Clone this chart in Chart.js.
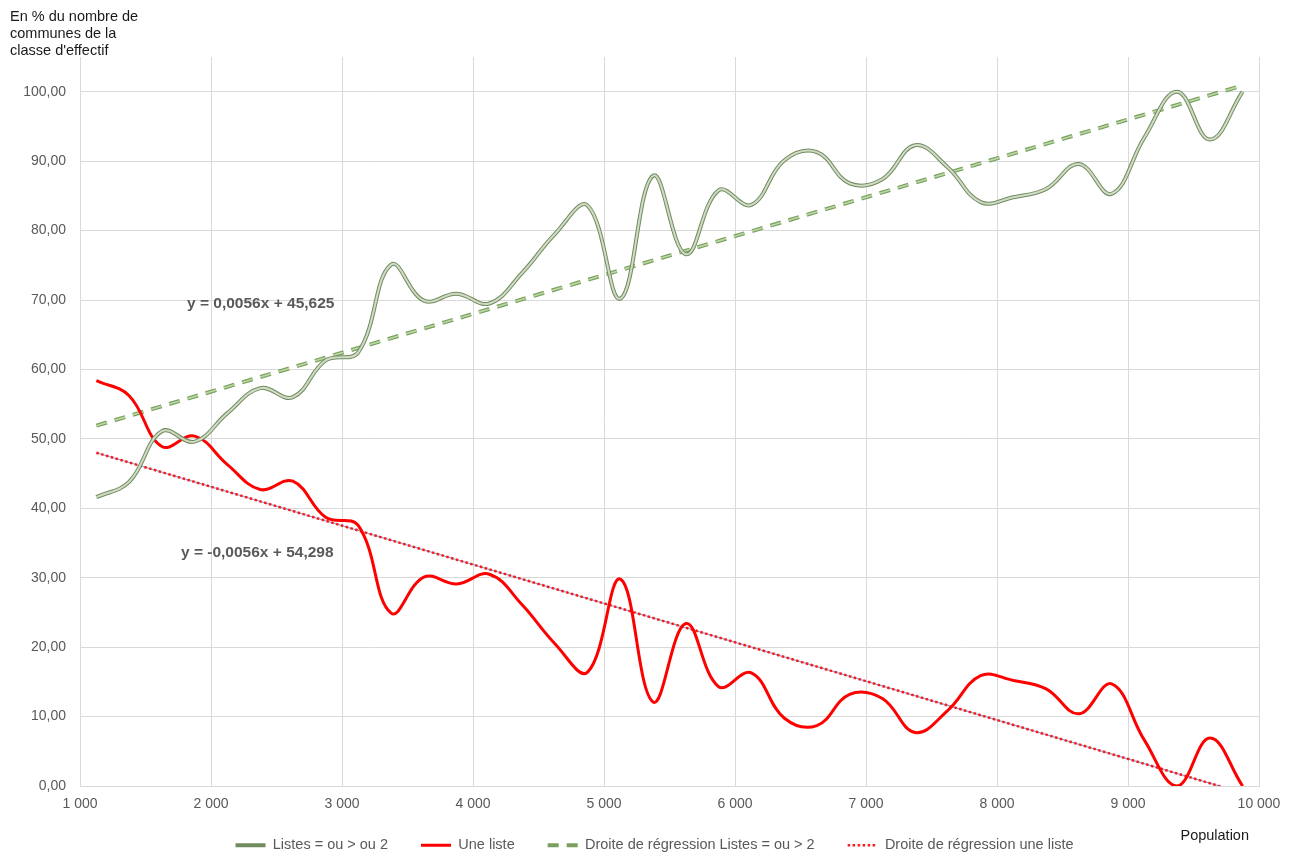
<!DOCTYPE html>
<html>
<head>
<meta charset="utf-8">
<script src="https://cdn.jsdelivr.net/npm/chart.js"></script>
<style>
  body { margin: 0; background: #fff; }
  #wrap { width: 1295px; height: 853px; }
</style>
</head>
<body>
<div id="wrap"><canvas id="graph1" width="1295" height="853"></canvas></div>
<script>
// données
let population = [1125, 1375, 1625, 1875, 2125, 2375, 2625, 2875, 3125, 3375, 3625, 3875,
  4125, 4375, 4625, 4875, 5125, 5375, 5625, 5875, 6125, 6375, 6625, 6875,
  7125, 7375, 7625, 7875, 8125, 8375, 8625, 8875, 9125, 9375, 9625, 9875];

let listesDeuxPlus = [41.6, 43.8, 51.1, 49.6, 53.7, 57.3, 56.0, 61.3, 62.5, 75.1, 69.9, 70.9,
  69.5, 73.9, 79.5, 83.6, 70.2, 87.9, 76.6, 85.8, 83.7, 90.1, 91.3, 86.8,
  87.4, 92.3, 89.1, 84.1, 84.8, 86.0, 89.6, 85.3, 93.4, 100.0, 93.1, 100.0];

let uneListe = [58.4, 56.2, 48.9, 50.4, 46.3, 42.7, 43.9, 38.7, 37.5, 24.9, 30.1, 29.1,
  30.5, 26.1, 20.5, 16.4, 29.8, 12.1, 23.4, 14.3, 16.3, 9.8, 8.7, 13.2,
  12.6, 7.7, 10.9, 15.9, 15.2, 14.0, 10.4, 14.7, 6.6, 0.0, 6.9, 0.0];

// droites de régression (extrémités)
let trendX = [1125, 9875];
let trendListes = [51.9, 100.9];
let trendUne = [48.0, -1.0];

let yTicks = [0, 10, 20, 30, 40, 50, 60, 70, 80, 90, 100];

let labels = ["Listes = ou > ou 2", "Une liste", "Droite de régression Listes = ou > 2", "Droite de régression une liste"];
let eqListes = "y = 0,0056x + 45,625";
let eqUne = "y = -0,0056x + 54,298";
let titreY = ["En % du nombre de", "communes de la", "classe d'effectif"];
let titreX = "Population";

function pts(xs, ys) {
  let out = [];
  for (let i = 0; i < xs.length; i++) out.push({ x: xs[i], y: ys[i] });
  return out;
}

function fmtX(v) {
  return String(v).replace(/\B(?=(\d{3})+(?!\d))/g, " ");
}

Chart.defaults.font.family = '"Liberation Sans", Arial, sans-serif';
Chart.defaults.font.size = 14;
Chart.defaults.color = "#595959";

// textes en plus : titre de l'axe, équations, "Population"
let textes = {
  id: "textes",
  afterLayout(chart) {
    // légende un peu plus haut et recentrée comme l'original
    let lg = chart.legend;
    lg.top = 805;
    lg.bottom = 853;
    lg.height = 48;
    lg.left += 25;
    lg.right += 25;
  },
  afterDatasetsDraw(chart) {
    let ctx = chart.ctx;
    let sx = chart.scales.x, sy = chart.scales.y;
    ctx.save();
    ctx.textBaseline = "middle";
    ctx.textAlign = "left";
    ctx.fillStyle = "#595959";
    ctx.font = 'bold 15.5px "Liberation Sans", Arial, sans-serif';
    ctx.fillText(eqListes, sx.getPixelForValue(1817), sy.getPixelForValue(69.4));
    ctx.fillText(eqUne, sx.getPixelForValue(1771), sy.getPixelForValue(33.6));
    ctx.fillStyle = "#1a1a1a";
    ctx.font = '14.5px "Liberation Sans", Arial, sans-serif';
    for (let i = 0; i < titreY.length; i++) ctx.fillText(titreY[i], 10, 17 + i * 17);
    ctx.textAlign = "right";
    ctx.fillText(titreX, 1249, 836);
    ctx.restore();
  }
};

let ctx = document.getElementById("graph1").getContext("2d");
let chart = new Chart(ctx, {
  type: "line",
  data: {
    datasets: [
      { label: labels[0], data: pts(population, listesDeuxPlus), borderColor: "#718b5e", backgroundColor: "#718b5e",
        borderWidth: 4, tension: 0.4, order: 1 },
      { label: "", helper: true, data: pts(population, listesDeuxPlus), borderColor: "#d0dbc6",
        borderWidth: 2, tension: 0.4, order: 0.5 },
      { label: labels[1], data: pts(population, uneListe), borderColor: "#ff0000", backgroundColor: "#ff0000",
        borderWidth: 3, tension: 0.4, order: 2 },
      { label: labels[2], data: pts(trendX, trendListes), borderColor: "#79a05e", backgroundColor: "#79a05e",
        borderWidth: 4, borderDash: [11, 8], order: 3 },
      { label: "", helper: true, data: pts(trendX, trendListes), borderColor: "#bcd8a6",
        borderWidth: 1.6, borderDash: [11, 8], order: 2.5 },
      { label: labels[3], data: pts(trendX, trendUne), borderColor: "#ff1a1a", backgroundColor: "#ff1a1a",
        borderWidth: 2.5, borderDash: [2.5, 2.5], order: 4 },
      { label: "", helper: true, data: pts(trendX, trendUne), borderColor: "#86a2d4",
        borderWidth: 1.2, order: 5 }
    ]
  },
  options: {
    responsive: false,
    animation: false,
    elements: { point: { radius: 0, hoverRadius: 0 } },
    layout: { padding: { top: 57, right: 36, bottom: 0, left: 0 } },
    scales: {
      x: {
        type: "linear",
        min: 1000,
        max: 10000,
        ticks: { stepSize: 1000, padding: 10, callback: v => fmtX(v) },
        grid: { color: "#d9d9d9", drawTicks: false },
        border: { color: "#d9d9d9" },
        afterFit: s => { s.height = 27; }
      },
      y: {
        min: 0,
        max: 105,
        afterBuildTicks: s => { s.ticks = yTicks.map(v => ({ value: v })); },
        ticks: { padding: 14, callback: v => v.toFixed(2).replace(".", ",") },
        grid: { color: "#d9d9d9", drawTicks: false },
        border: { color: "#d9d9d9" },
        afterFit: s => { s.width = 80; }
      }
    },
    plugins: {
      tooltip: { enabled: false },
      legend: {
        position: "bottom",
        maxHeight: 40,
        labels: {
          usePointStyle: true,
          pointStyle: "line",
          pointStyleWidth: 30,
          padding: 33,
          color: "#595959",
          font: { size: 14.5 },
          filter: (item, data) => !data.datasets[item.datasetIndex].helper,
          generateLabels: c => {
            let items = Chart.defaults.plugins.legend.labels.generateLabels(c);
            items.forEach(it => {
              let ds = c.data.datasets[it.datasetIndex];
              it.lineDash = ds.borderDash || [];
              it.lineWidth = ds.borderWidth;
              it.strokeStyle = ds.borderColor;
            });
            return items;
          }
        }
      }
    }
  },
  plugins: [textes]
});
</script>
</body>
</html>
